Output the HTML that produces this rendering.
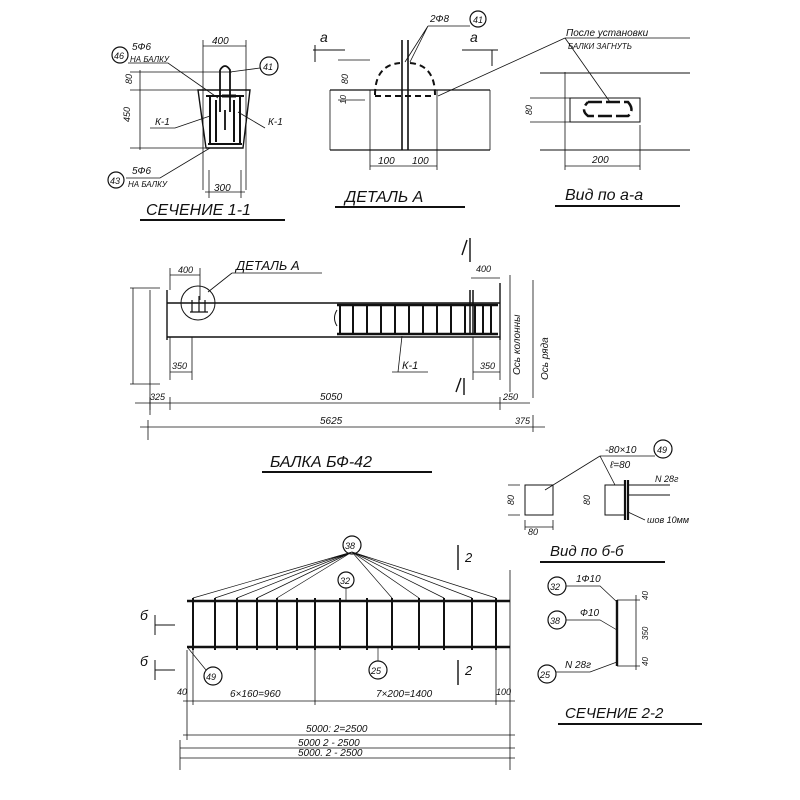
<!DOCTYPE html>
<html><head><meta charset="utf-8"><style>
html,body{margin:0;padding:0;background:#fff;}
svg{display:block}
text{font-family:"Liberation Sans",sans-serif;font-style:italic;fill:#111}
</style></head><body>
<svg width="800" height="800" viewBox="0 0 800 800" xmlns="http://www.w3.org/2000/svg" stroke="#111" fill="none" stroke-width="1.2">
<!-- ===== Section 1-1 ===== -->
<g>
<path d="M198 90 L250 90 L243 148 L206 148 Z" stroke-width="1.4"/>
<path d="M203 40 V190 M246 40 V190" stroke-width="0.8"/>
<path d="M203 46 H246" stroke-width="0.8"/>
<text x="212" y="44" font-size="10" stroke="none">400</text>
<path d="M209 170 V198 M241 170 V198 M205 192 H245" stroke-width="0.8"/>
<text x="214" y="191" font-size="10" stroke="none">300</text>
<path d="M130 72 H232 M130 90 H200 M130 148 H205 M140 70 V150" stroke-width="0.8"/>
<text x="132" y="84" font-size="9" stroke="none" transform="rotate(-90 132 84)">80</text>
<text x="130" y="122" font-size="9" stroke="none" transform="rotate(-90 130 122)">450</text>
<!-- inner cage -->
<path d="M206 96 H244 M208 144 H242" stroke-width="2"/>
<path d="M210 96 V144 M240 96 V144 M216 100 V142 M234 100 V142" stroke-width="2"/>
<path d="M220 70 Q225 62 230 70 V112 M220 70 V112 M225 110 V130" stroke-width="1.8"/>
<path d="M222 96 H236" stroke-width="3"/>
<circle cx="120" cy="55" r="8"/><text x="114" y="59" font-size="9" stroke="none">46</text>
<text x="132" y="50" font-size="10" stroke="none">5Ф6</text>
<text x="130" y="62" font-size="8" stroke="none">НА БАЛКУ</text>
<path d="M128 63 H168 L218 98" stroke-width="0.8"/>
<circle cx="269" cy="66" r="9"/><text x="263" y="70" font-size="9" stroke="none">41</text>
<path d="M260 68 L230 72" stroke-width="0.8"/>
<text x="155" y="125" font-size="10" stroke="none">К-1</text>
<path d="M150 128 H175 L210 116" stroke-width="0.8"/>
<text x="268" y="125" font-size="10" stroke="none">К-1</text>
<path d="M265 128 L238 112" stroke-width="0.8"/>
<circle cx="116" cy="180" r="8"/><text x="110" y="184" font-size="9" stroke="none">43</text>
<text x="132" y="174" font-size="10" stroke="none">5Ф6</text>
<text x="128" y="187" font-size="8" stroke="none">НА БАЛКУ</text>
<path d="M126 178 H160 L210 148" stroke-width="0.8"/>
<text x="146" y="215" font-size="16" stroke="none">СЕЧЕНИЕ 1-1</text>
<path d="M140 220 H285" stroke-width="2"/>
</g>
<!-- ===== Detail A ===== -->
<g>
<path d="M330 90 H490 M330 150 H490" stroke-width="1.3"/>
<path d="M330 90 V150 M490 90 V150" stroke-width="0.8"/>
<path d="M370 90 V170 M437 90 V170" stroke-width="0.8"/>
<path d="M402 40 V150 M408 40 V150" stroke-width="1.6"/>
<path d="M375 95 Q375 65 400 63 M410 63 Q435 65 435 95 M375 96 H435" stroke-width="2" stroke-dasharray="6 4"/>
<path d="M370 166 H437" stroke-width="0.8"/>
<text x="378" y="164" font-size="10" stroke="none">100</text>
<text x="412" y="164" font-size="10" stroke="none">100</text>
<path d="M338 60 H370 M338 100 H365" stroke-width="0.8"/>
<text x="348" y="84" font-size="9" stroke="none" transform="rotate(-90 348 84)">80</text>
<text x="346" y="104" font-size="8" stroke="none" transform="rotate(-90 346 104)">10</text>
<text x="320" y="42" font-size="14" stroke="none">а</text>
<path d="M313 50 H345 M315 45 V62" stroke-width="1"/>
<text x="470" y="42" font-size="14" stroke="none">а</text>
<path d="M462 50 H498 M492 50 V66" stroke-width="1"/>
<text x="430" y="22" font-size="10" stroke="none">2Ф8</text>
<circle cx="478" cy="19" r="8"/><text x="473" y="23" font-size="9" stroke="none">41</text>
<path d="M428 26 H470 M428 26 L405 62 M428 26 L410 62" stroke-width="0.8"/>
<text x="345" y="202" font-size="16" stroke="none">ДЕТАЛЬ А</text>
<path d="M335 207 H465" stroke-width="2"/>
</g>
<!-- ===== Vid a-a ===== -->
<g>
<path d="M540 73 H690 M540 150 H690" stroke-width="1"/>
<path d="M570 98 H640 V122 H570 Z" stroke-width="1"/>
<path d="M588 102 H628 Q635 110 628 116 H588 Q580 110 588 102" stroke-width="2.5" stroke-dasharray="14 4"/>
<path d="M565 72 V170 M640 125 V170 M565 166 H640" stroke-width="0.8"/>
<path d="M530 98 H570 M530 122 H570" stroke-width="0.8"/>
<text x="532" y="115" font-size="9" stroke="none" transform="rotate(-90 532 115)">80</text>
<text x="592" y="163" font-size="10" stroke="none">200</text>
<text x="566" y="36" font-size="10" stroke="none">После установки</text>
<text x="568" y="49" font-size="8" stroke="none">БАЛКИ ЗАГНУТЬ</text>
<path d="M565 38 H690 M565 38 L438 96 M565 38 L610 102" stroke-width="0.8"/>
<text x="565" y="200" font-size="16" stroke="none">Вид по а-а</text>
<path d="M555 206 H680" stroke-width="2"/>
</g>
<!-- ===== Beam BF-42 ===== -->
<g>
<path d="M167 303 H500 M167 337 H500 M167 290 V340 M500 283 V340" stroke-width="1.4"/>
<path d="M150 290 V415 M133 288 V384 M130 288 H160 M130 384 H160" stroke-width="0.8"/>
<circle cx="198" cy="303" r="17" stroke-width="1"/>
<path d="M192 300 V312 M199 296 V312 M205 300 V312 M190 312 H208" stroke-width="1.2"/>
<path d="M170 268 V290 M200 268 V300 M170 275 H200" stroke-width="0.8"/>
<text x="178" y="273" font-size="9" stroke="none">400</text>
<text x="236" y="270" font-size="13" stroke="none">ДЕТАЛЬ А</text>
<path d="M232 273 H322 M232 273 L208 292" stroke-width="0.8"/>
<path d="M337 305 H498 M337 334 H498" stroke-width="2.6"/>
<path d="M340 305V334 M353 305V334 M367 305V334 M381 305V334 M395 305V334 M409 305V334 M423 305V334 M437 305V334 M451 305V334 M465 305V334 M475 305V334 M483 305V334 M491 305V334" stroke-width="2"/>
<path d="M470 290 V334 M473 290 V334" stroke-width="1.5"/>
<path d="M337 310 Q332 318 337 326" stroke-width="1"/>
<path d="M170 337 V380 M192 337 V380 M170 372 H192" stroke-width="0.8"/>
<text x="172" y="369" font-size="9" stroke="none">350</text>
<path d="M473 337 V380 M500 337 V380 M473 372 H500" stroke-width="0.8"/>
<text x="480" y="369" font-size="9" stroke="none">350</text>
<text x="476" y="272" font-size="9" stroke="none">400</text>
<path d="M471 278 H500" stroke-width="0.8"/>
<text x="402" y="369" font-size="11" stroke="none">К-1</text>
<path d="M392 372 H428 M398 372 L402 336" stroke-width="0.8"/>
<path d="M462 255 L467 240 M470 238 V262" stroke-width="1.4"/>
<path d="M456 392 L461 378 M464 378 V395" stroke-width="1.4"/>
<path d="M510 275 V392 M533 280 V398" stroke-width="0.8"/>
<text x="520" y="375" font-size="10" stroke="none" transform="rotate(-90 520 375)">Ось колонны</text>
<text x="548" y="380" font-size="10" stroke="none" transform="rotate(-90 548 380)">Ось ряда</text>
<path d="M135 403 H530 M150 397 V410 M170 397 V410 M500 397 V410" stroke-width="0.8"/>
<text x="150" y="400" font-size="9" stroke="none">325</text>
<text x="320" y="400" font-size="10" stroke="none">5050</text>
<text x="503" y="400" font-size="9" stroke="none">250</text>
<path d="M140 427 H545 M148 420 V440 M533 415 V432" stroke-width="0.8"/>
<text x="320" y="424" font-size="10" stroke="none">5625</text>
<text x="515" y="424" font-size="9" stroke="none">375</text>
<text x="270" y="467" font-size="16" stroke="none">БАЛКА БФ-42</text>
<path d="M262 472 H432" stroke-width="2"/>
</g>
<!-- ===== Vid б-б ===== -->
<g>
<path d="M525 485 H553 V515 H525 Z" stroke-width="1"/>
<path d="M525 520 V530 M553 520 V530 M525 527 H553 M508 485 H520 M508 515 H520" stroke-width="0.8"/>
<text x="528" y="535" font-size="9" stroke="none">80</text>
<text x="514" y="505" font-size="9" stroke="none" transform="rotate(-90 514 505)">80</text>
<path d="M605 485 H625 V515 H605 Z" stroke-width="1"/>
<path d="M625 480 V520 M628 480 V520" stroke-width="2.2"/>
<path d="M628 485 H670 M628 495 H670" stroke-width="1"/>
<text x="590" y="505" font-size="9" stroke="none" transform="rotate(-90 590 505)">80</text>
<text x="605" y="453" font-size="10" stroke="none">-80×10</text>
<text x="610" y="468" font-size="10" stroke="none">ℓ=80</text>
<circle cx="663" cy="449" r="9"/><text x="657" y="453" font-size="9" stroke="none">49</text>
<path d="M600 456 H655 M600 456 L545 490 M600 456 L615 485" stroke-width="0.8"/>
<text x="655" y="482" font-size="9" stroke="none">N 28г</text>
<text x="647" y="523" font-size="9" stroke="none">шов 10мм</text>
<path d="M628 512 L645 520" stroke-width="0.8"/>
<text x="550" y="556" font-size="15" stroke="none">Вид по б-б</text>
<path d="M540 562 H665" stroke-width="2"/>
</g>
<!-- ===== Bottom cage ===== -->
<g>
<path d="M187 601 H510 M187 647 H510" stroke-width="2.6"/>
<path d="M193 598V650 M215 598V650 M237 598V650 M257 598V650 M277 598V650 M297 598V650 M315 598V650 M340 598V650 M367 598V650 M392 598V650 M419 598V650 M444 598V650 M472 598V650 M496 598V650" stroke-width="2"/>
<path d="M315 650 V705 M496 650 V705 M193 650 V705 M187 650 V740 M510 570 V770" stroke-width="0.8"/>
<circle cx="352" cy="545" r="9"/><text x="345" y="549" font-size="9" stroke="none">38</text>
<path d="M352 552 L193 598 M352 552 L215 598 M352 552 L237 598 M352 552 L257 598 M352 552 L277 598 M352 552 L392 598 M352 552 L419 598 M352 552 L444 598 M352 552 L472 598 M352 552 L496 598" stroke-width="0.7"/>
<circle cx="346" cy="580" r="8"/><text x="340" y="584" font-size="9" stroke="none">32</text>
<path d="M346 588 V601" stroke-width="0.7"/>
<circle cx="378" cy="670" r="9"/><text x="371" y="674" font-size="9" stroke="none">25</text>
<path d="M378 661 V648" stroke-width="0.7"/>
<circle cx="213" cy="676" r="9"/><text x="206" y="680" font-size="9" stroke="none">49</text>
<path d="M206 670 L188 648" stroke-width="0.7"/>
<path d="M458 545 V570 M458 660 V685" stroke-width="1.4"/>
<text x="465" y="562" font-size="13" stroke="none">2</text>
<text x="465" y="675" font-size="13" stroke="none">2</text>
<text x="140" y="620" font-size="14" stroke="none">б</text>
<path d="M155 615 V635 M155 625 H175" stroke-width="1"/>
<text x="140" y="666" font-size="14" stroke="none">б</text>
<path d="M155 660 V680 M155 670 H175" stroke-width="1"/>
<path d="M183 701 H515" stroke-width="0.8"/>
<text x="177" y="695" font-size="9" stroke="none">40</text>
<text x="230" y="697" font-size="10" stroke="none">6×160=960</text>
<text x="376" y="697" font-size="10" stroke="none">7×200=1400</text>
<text x="496" y="695" font-size="9" stroke="none">100</text>
<path d="M183 735 H515 M180 748 H515 M180 758 H515 M180 740 V770" stroke-width="0.8"/>
<text x="306" y="732" font-size="10" stroke="none">5000: 2=2500</text>
<text x="298" y="746" font-size="10" stroke="none">5000 2 - 2500</text>
<text x="298" y="756" font-size="10" stroke="none">5000. 2 - 2500</text>
</g>
<!-- ===== Section 2-2 ===== -->
<g>
<path d="M617 600 V666" stroke-width="2.4"/>
<path d="M617 600 H640 M617 666 H640 M636 595 V670" stroke-width="0.8"/>
<text x="648" y="600" font-size="8" stroke="none" transform="rotate(-90 648 600)">40</text>
<text x="648" y="640" font-size="8" stroke="none" transform="rotate(-90 648 640)">350</text>
<text x="648" y="666" font-size="8" stroke="none" transform="rotate(-90 648 666)">40</text>
<circle cx="557" cy="586" r="9"/><text x="550" y="590" font-size="9" stroke="none">32</text>
<text x="576" y="582" font-size="10" stroke="none">1Ф10</text>
<path d="M566 586 H600 L617 602" stroke-width="0.7"/>
<circle cx="557" cy="620" r="9"/><text x="550" y="624" font-size="9" stroke="none">38</text>
<text x="580" y="616" font-size="10" stroke="none">Ф10</text>
<path d="M566 620 H600 L617 630" stroke-width="0.7"/>
<circle cx="547" cy="674" r="9"/><text x="540" y="678" font-size="9" stroke="none">25</text>
<text x="565" y="668" font-size="10" stroke="none">N 28г</text>
<path d="M556 672 H590 L617 662" stroke-width="0.7"/>
<text x="565" y="718" font-size="15" stroke="none">СЕЧЕНИЕ 2-2</text>
<path d="M558 724 H702" stroke-width="2"/>
</g>
</svg>
</body></html>
